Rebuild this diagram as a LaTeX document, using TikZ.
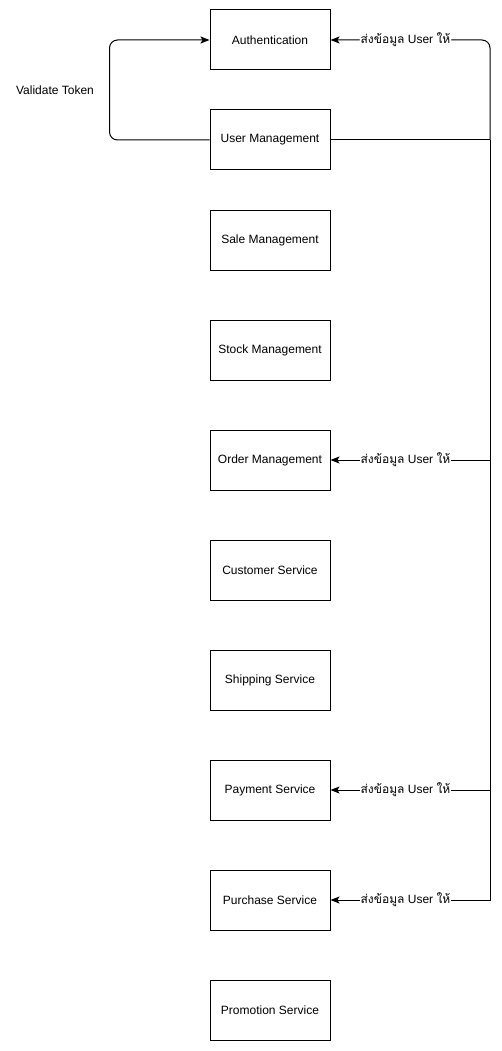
\documentclass[tikz,border=0pt]{standalone}
\usepackage{fontspec}
\setmainfont{Liberation Sans}
\newfontfamily\thaifont[Script=Thai]{Loma}
\usetikzlibrary{arrows.meta}
\newcommand\sendlbl{{\thaifont ส่งข้อมูล} User {\thaifont ให้}}
\begin{document}
\begin{tikzpicture}[x=1pt,y=-1pt,
  box/.style={draw, line width=1pt, minimum width=120pt, minimum height=60pt, inner sep=0pt, font=\fontsize{12}{14}\selectfont},
  conn/.style={line width=1pt, -{Stealth[length=9pt,width=7pt,inset=2pt]}},
  lab/.style={fill=white, inner sep=1pt, font=\fontsize{12}{14}\selectfont},
  note/.style={font=\fontsize{12}{14}\selectfont}]
\useasboundingbox (0,0) rectangle (502,1051);
\node[box] (auth) at (270,40) {Authentication};
\node[box] (user) at (270,140) {User Management};
\node[box] (sale) at (270,240) {Sale Management};
\node[box] (stock) at (270,350) {Stock Management};
\node[box] (order) at (270,460) {Order Management};
\node[box] (cust) at (270,570) {Customer Service};
\node[box] (ship) at (270,680) {Shipping Service};
\node[box] (pay) at (270,790) {Payment Service};
\node[box] (purch) at (270,900) {Purchase Service};
\node[box] (promo) at (270,1010) {Promotion Service};
\node[note] (vt) at (55,90) {Validate Token};
\coordinate (j) at (490,140);
\draw[conn, rounded corners=8pt] (user.west) -- ++(-100,0) |- (auth.west);
\draw[line width=1pt] (user.east) -- (j);
\draw[conn, rounded corners=8pt] (j) |- (auth.east) node[lab, pos=0.765] {\sendlbl};
\draw[conn] (j) |- (order.east) node[lab, pos=0.765] {\sendlbl};
\draw[conn] (j) |- (pay.east) node[lab, pos=0.765] {\sendlbl};
\draw[conn] (j) |- (purch.east) node[lab, pos=0.765] {\sendlbl};
\end{tikzpicture}
\end{document}
